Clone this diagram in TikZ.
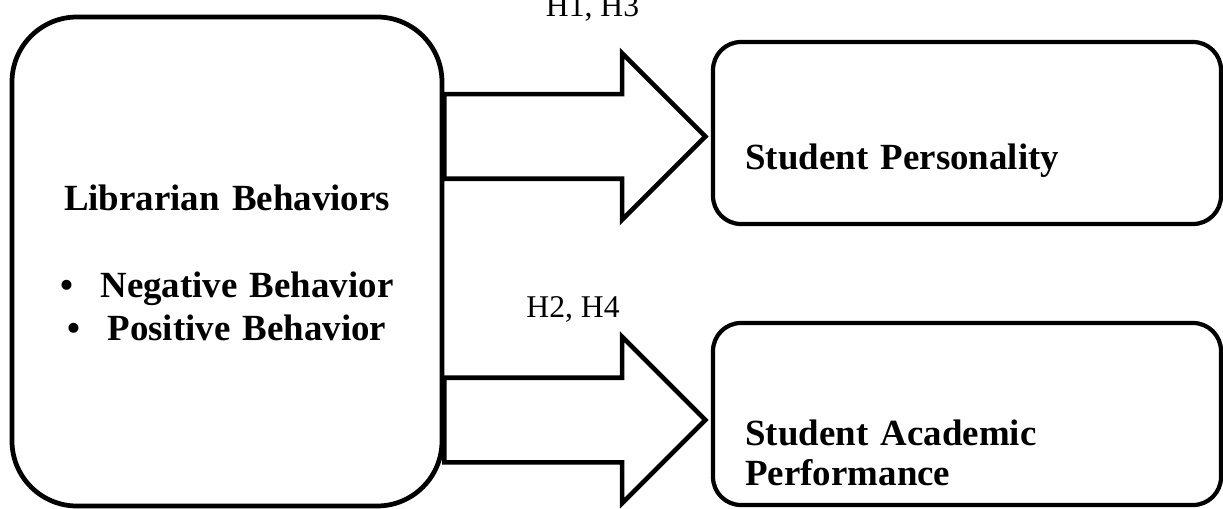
\documentclass[tikz,border=0pt]{standalone}
\usepackage{fontspec}
\setmainfont{Liberation Serif}
\usepackage{tikz}
\usetikzlibrary{positioning,shapes.arrows,calc}

\begin{document}
\begin{tikzpicture}[
  bigbox/.style={draw,line width=2.7pt,rounded corners=1.3cm,
                 minimum width=8.6cm,minimum height=9.78cm},
  outbox/.style={draw,line width=2.4pt,rounded corners=0.56cm,
                 minimum width=10.16cm,minimum height=3.64cm},
  fatarrow/.style={draw,line width=2.6pt,single arrow,anchor=tail,outer sep=0pt,
                   inner xsep=0pt,inner ysep=0.8cm,minimum height=5.22cm,
                   single arrow head extend=0.82cm},
  boxtext/.style={font=\bfseries\fontsize{21}{24}\selectfont,anchor=base west,
                  text width=8cm,align=left,inner sep=0pt},
  hyp/.style={font=\fontsize{18}{21}\selectfont,anchor=base,inner sep=0pt}]

  \useasboundingbox (0,0) rectangle (24.46,10.16);

  % Independent variable (left)
  \node[bigbox] (lib) at (4.54,4.93) {};
  \node[boxtext,anchor=base,align=center] (libT) at (4.54,5.94)
    {Librarian Behaviors\\[25.5pt]
     \textbullet\hspace{0.54cm}Negative Behavior\\
     \textbullet\hspace{0.54cm}Positive Behavior};

  % Dependent variables (right)
  \node[outbox] (pers) at (19.34,7.5) {};
  \node[boxtext] (persT) at (14.9,6.76) {Student Personality};
  \node[outbox] (acad) at (19.34,1.88) {};
  \node[boxtext,font=\bfseries\fontsize{21}{22.8}\selectfont] (acadT) at (14.9,1.26)
    {Student Academic\\Performance};

  % Block arrows
  \node[fatarrow] (arrP) at ($(lib.east)+(0,2.5)$) {};
  \node[fatarrow] (arrA) at ($(lib.east)+(0,-3.17)$) {};

  % Hypothesis labels
  \node[hyp] (h13) at (11.85,9.82) {H1, H3};
  \node[hyp] (h24) at (11.46,3.8) {H2, H4};
\end{tikzpicture}
\end{document}
